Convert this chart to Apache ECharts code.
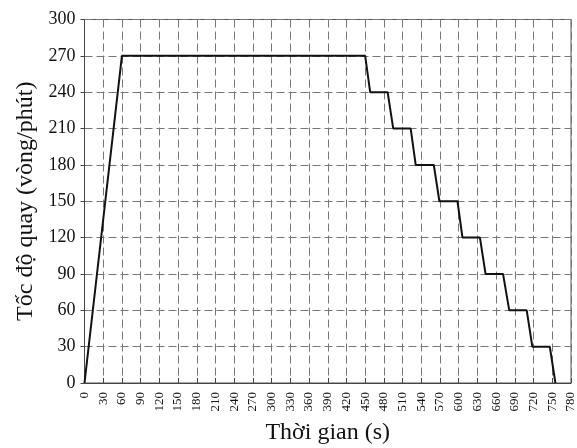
<!DOCTYPE html>
<html>
<head>
<meta charset="utf-8">
<script src="https://cdn.jsdelivr.net/npm/echarts@6/dist/echarts.min.js"></script>
<style>html,body{margin:0;padding:0;background:#fff;}#c{width:577px;height:448px;}</style>
</head>
<body>
<div id="c"></div>
<script>
var timeValues = [0, 60, 450, 458, 486, 495, 523, 531, 560, 569, 598, 606, 634, 643, 671, 681, 709, 718, 746, 755];
var speedValues = [0, 270, 270, 240, 240, 210, 210, 180, 180, 150, 150, 120, 120, 90, 90, 60, 60, 30, 30, 0];
var xTickMax = 780, xTickStep = 30;
var yTickMax = 300, yTickStep = 30;

var points = timeValues.map(function (t, i) { return [t, speedValues[i]]; });
var font = 'Liberation Serif';
var chart = echarts.init(document.getElementById('c'));
chart.setOption({
  animation: false,
  grid: { left: 84.5, right: 6, top: 19.5, bottom: 65, outerBoundsMode: 'none', containLabel: false, show: true, borderColor: '#555', borderWidth: 1, backgroundColor: 'transparent' },
  xAxis: {
    type: 'value', min: 0, max: xTickMax, interval: xTickStep,
    name: 'Thời gian (s)', nameLocation: 'middle', nameGap: 38,
    nameTextStyle: { fontFamily: font, fontSize: 24, color: '#111' },
    axisLine: { show: true, lineStyle: { color: '#444', width: 1 } },
    axisTick: { show: true, inside: true, length: 5, lineStyle: { color: '#444' } },
    axisLabel: { rotate: 90, fontFamily: font, fontSize: 13, color: '#111', margin: 9 },
    splitLine: { show: true, lineStyle: { color: '#777', width: 1, type: [8, 4] } }
  },
  yAxis: {
    type: 'value', min: 0, max: yTickMax, interval: yTickStep,
    name: 'Tốc độ quay (vòng/phút)', nameLocation: 'middle', nameGap: 41,
    nameTextStyle: { fontFamily: font, fontSize: 24, color: '#111' },
    axisLine: { show: true, lineStyle: { color: '#444', width: 1 } },
    axisTick: { show: true, inside: false, length: 4, lineStyle: { color: '#444' } },
    axisLabel: { fontFamily: font, fontSize: 18, color: '#111', margin: 9 },
    splitLine: { show: true, lineStyle: { color: '#777', width: 1, type: [8, 4] } }
  },
  series: [{
    type: 'line', data: points, showSymbol: false, symbol: 'none',
    lineStyle: { color: '#111', width: 2 }
  }]
});
</script>
</body>
</html>
